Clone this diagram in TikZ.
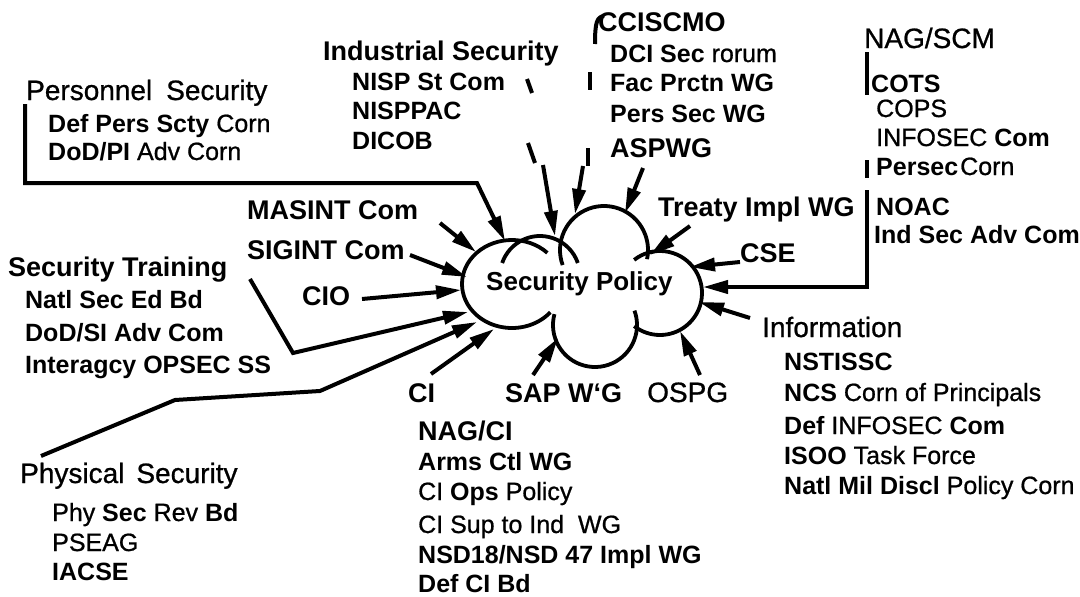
\documentclass[tikz,border=0pt]{standalone}
\usepackage{fontspec}
\setmainfont{Liberation Sans}
\newfontfamily\medf{Liberation Sans}[FakeBold=0.8]
\usetikzlibrary{arrows.meta}
\newcommand\rg[1]{{\medf\mdseries #1}}
\begin{document}
\begin{tikzpicture}[x=1pt,y=1pt,
  lbl/.style={anchor=base west,inner sep=0pt,font=\fontsize{25}{30}\selectfont\bfseries},
  lblr/.style={anchor=base west,inner sep=0pt,font=\fontsize{25}{30}\selectfont\medf\mdseries},
  hd/.style={anchor=base west,inner sep=0pt,font=\fontsize{27}{32}\selectfont\bfseries},
  hdr/.style={anchor=base west,inner sep=0pt,font=\fontsize{28}{32}\selectfont\medf\mdseries},
  arr/.style={line width=4pt,-{Triangle[length=25pt,width=13pt]}},
  seg/.style={line width=4pt},
  lobe/.style={line width=3.8pt}]
\useasboundingbox (0,0) rectangle (1080,-597);

% ---------- cloud ----------
\draw[lobe] (512,-284) ++(45:50 and 44) arc[start angle=45,end angle=320,x radius=50,y radius=44];
\draw[lobe] (540,-276) ++(161:40) arc[start angle=161,end angle=19,radius=40];
\draw[lobe] (604,-250) ++(200:44) arc[start angle=200,end angle=-12,radius=44];
\draw[lobe] (660,-293) ++(128:42) arc[start angle=128,end angle=-128,radius=42];
\draw[lobe] (595,-325) ++(165:42) arc[start angle=165,end angle=380,radius=42];
\node[anchor=base west,inner sep=0pt,font=\fontsize{26}{30}\selectfont\bfseries] (sp) at (486,-290) {Security Policy};

% ---------- Personnel Security ----------
\node[hdr] (persH) at (26,-100) {Personnel\hspace{14pt}Security};
\node[lbl] (dps) at (48,-132) {Def Pers Scty \rg{Corn}};
\node[lbl] (dpi) at (48,-160) {DoD/PI \rg{Adv Corn}};
\coordinate (p1) at (25,-104);
\coordinate (p2) at (25,-183);
\coordinate (p3) at (477,-183);
\coordinate (pT) at (505,-241);
\draw[arr] (p1) -- (p2) -- (p3) -- (pT);

% ---------- Industrial Security ----------
\node[hd] (indH) at (323,-60) {Industrial Security};
\node[lbl] (nisp) at (352,-90) {NISP St Com};
\node[lbl] (nisppac) at (352,-119) {NISPPAC};
\node[lbl] (dicob) at (352,-149) {DICOB};
\coordinate (i1a) at (527,-79);  \coordinate (i1b) at (532,-93);
\coordinate (i2a) at (528,-143); \coordinate (i2b) at (535,-163);
\coordinate (i3) at (543,-165);  \coordinate (iT) at (555,-236);
\draw[seg] (i1a) -- (i1b);
\draw[seg] (i2a) -- (i2b);
\draw[arr] (i3) -- (iT);

% ---------- CCISCMO ----------
\node[hd] (cci) at (598,-31) {CCISCMO};
\node[lbl] (dci) at (610,-62) {DCI Sec \rg{rorum}};
\node[lbl] (fac) at (610,-91) {Fac Prctn WG};
\node[lbl] (psw) at (610,-122) {Pers Sec WG};
\node[hd] (asp) at (610,-157) {ASPWG};
\coordinate (c0) at (604,-16); \coordinate (c1) at (595,-44);
\draw[seg] (c0) .. controls (597,-17) and (595,-22) .. (c1);
\coordinate (c2a) at (590,-72);  \coordinate (c2b) at (590,-90);
\coordinate (c3a) at (588,-148); \coordinate (c3b) at (588,-166);
\draw[seg] (c2a) -- (c2b);
\draw[seg] (c3a) -- (c3b);
\coordinate (c4) at (583,-166); \coordinate (cT) at (575,-214);
\draw[arr] (c4) -- (cT);
\coordinate (aS) at (643,-168); \coordinate (aT) at (625,-213);
\draw[arr] (aS) -- (aT);

% ---------- NAG/SCM ----------
\node[hdr] (nagscm) at (864,-48) {NAG/SCM};
\node[lbl] (cots) at (871,-92) {COTS};
\node[lblr] (cops) at (876,-117) {COPS};
\node[lbl] (infosec) at (876,-146) {\rg{INFOSEC} Com};
\node[lbl] (persec) at (876,-175) {Persec\kern2pt\rg{Corn}};
\node[lbl] (noac) at (876,-215) {NOAC};
\node[lbl] (isac) at (874,-243) {Ind Sec Adv Com};
\coordinate (n1a) at (867,-52);  \coordinate (n1b) at (867,-95);
\coordinate (n2a) at (867,-160); \coordinate (n2b) at (867,-178);
\coordinate (n3) at (867,-190);  \coordinate (n4) at (867,-287);
\coordinate (nT) at (703,-287);
\draw[seg] (n1a) -- (n1b);
\draw[seg] (n2a) -- (n2b);
\draw[arr] (n3) -- (n4) -- (nT);

% ---------- right labels ----------
\node[hd] (treaty) at (658,-216) {Treaty Impl WG};
\coordinate (tS) at (690,-226); \coordinate (tT) at (650,-255);
\draw[arr] (tS) -- (tT);
\node[hd] (cse) at (740,-262) {CSE};
\coordinate (csS) at (740,-262); \coordinate (csT) at (690,-267);
\draw[arr] (csS) -- (csT);

% ---------- Information ----------
\node[hdr] (infH) at (762,-337) {Information};
\node[lbl] (nst) at (784,-370) {NSTISSC};
\node[lbl] (ncs) at (784,-401) {NCS \rg{Corn of Principals}};
\node[lbl] (dinf) at (784,-434) {Def \rg{INFOSEC} Com};
\node[lbl] (isoo) at (784,-464) {ISOO \rg{Task Force}};
\node[lbl] (natl) at (784,-494) {Natl Mil Discl \rg{Policy Corn}};
\coordinate (inS) at (750,-318); \coordinate (inT) at (699,-302);
\draw[arr] (inS) -- (inT);

% ---------- bottom ----------
\node[hdr] (ospg) at (647,-402) {OSPG};
\coordinate (oS) at (700,-375); \coordinate (oT) at (680,-331);
\draw[arr] (oS) -- (oT);
\node[hd] (sap) at (505,-402) {SAP W‘G};
\coordinate (sS) at (533,-375); \coordinate (sT) at (558,-338);
\draw[arr] (sS) -- (sT);
\node[hd] (ci) at (408,-402) {CI};
\coordinate (ciS) at (431,-374); \coordinate (ciT) at (494,-329);
\draw[arr] (ciS) -- (ciT);
\node[hd] (nagci) at (418,-440) {NAG/CI};
\node[lbl] (arms) at (418,-470) {Arms Ctl WG};
\node[lbl] (ciops) at (418,-500) {\rg{CI} Ops \rg{Policy}};
\node[lblr] (cisup) at (418,-533) {CI Sup to Ind\ \ WG};
\node[lbl] (nsd) at (418,-563) {NSD18/NSD 47 Impl WG};
\node[lbl] (defci) at (418,-592) {Def CI Bd};

% ---------- Physical Security ----------
\node[hdr] (physH) at (20,-483) {Physical\hspace{12pt}Security};
\node[lbl] (phy) at (52,-521) {\rg{Phy} Sec \rg{Rev} Bd};
\node[lblr] (pseag) at (52,-551) {PSEAG};
\node[lbl] (iacse) at (52,-580) {IACSE};
\coordinate (ph1) at (41,-456); \coordinate (ph2) at (175,-400);
\coordinate (ph3) at (320,-391); \coordinate (phT) at (477,-322);
\draw[arr] (ph1) -- (ph2) -- (ph3) -- (phT);

% ---------- left ----------
\node[hd] (masint) at (247,-219) {MASINT Com};
\node[hd] (sigint) at (247,-259) {SIGINT Com};
\node[hd] (sectr) at (8,-276) {Security Training};
\node[hd] (cio) at (302,-305) {CIO};
\node[lbl] (nsed) at (25,-308) {Natl Sec Ed Bd};
\node[lbl] (dodsi) at (25,-341) {DoD/SI Adv Com};
\node[lbl] (inter) at (25,-373) {Interagcy OPSEC SS};
\coordinate (st1) at (250,-279); \coordinate (st2) at (293,-353);
\coordinate (stT) at (468,-312);
\draw[arr] (st1) -- (st2) -- (stT);
\coordinate (cioS) at (362,-299); \coordinate (cioT) at (461,-290);
\draw[arr] (cioS) -- (cioT);
\coordinate (sgS) at (410,-255); \coordinate (sgT) at (467,-277);
\draw[arr] (sgS) -- (sgT);
\coordinate (maS) at (440,-223); \coordinate (maT) at (476,-252);
\draw[arr] (maS) -- (maT);
\end{tikzpicture}
\end{document}
